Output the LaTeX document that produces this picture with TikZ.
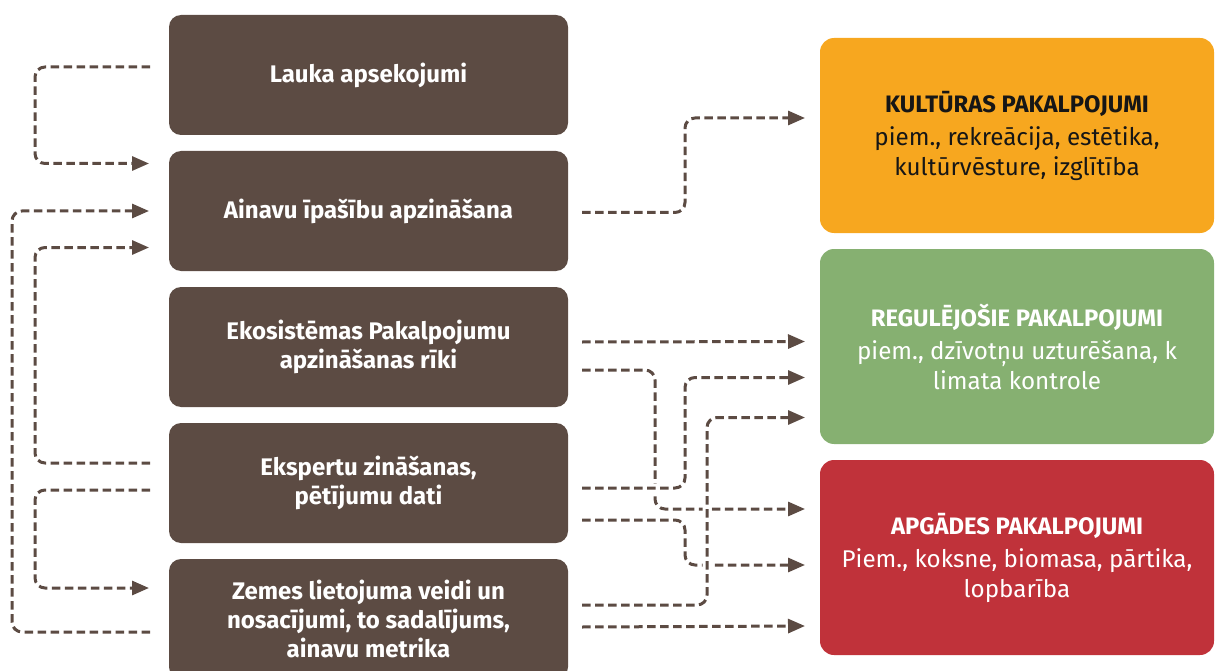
\documentclass[tikz,border=0pt]{standalone}
\usepackage{fontspec}
\setmainfont{Fira Sans}
\usepackage{xcolor}
\usepackage{tikz}
\usetikzlibrary{positioning,arrows.meta}
\definecolor{esBrown}{HTML}{5C4B43}
\definecolor{esOrange}{HTML}{F7A71F}
\definecolor{esGreen}{HTML}{86B071}
\definecolor{esRed}{HTML}{C0323A}
\definecolor{esInk}{HTML}{161616}
\newcommand{\svctitle}[1]{\textbf{\fontsize{23.8}{30}\selectfont #1}}
\tikzset{
  srcbox/.style={
    fill=esBrown, draw=none, rounded corners=12pt,
    minimum width=399pt, minimum height=120pt,
    inner sep=0pt, outer sep=0pt, align=center, text=white,
    font=\bfseries\fontsize{24}{29}\selectfont
  },
  svcbox/.style={
    draw=none, rounded corners=14pt,
    minimum width=394pt, minimum height=195pt,
    inner sep=0pt, outer sep=0pt, align=center,
    font=\fontsize{24.2}{30}\selectfont
  },
  flow/.style={
    draw=esBrown, line width=3pt, dash pattern=on 8.5pt off 4.5pt,
    rounded corners=10pt, -{Triangle[length=17pt,width=14pt]}
  },
  bridge/.style={preaction={draw=white, solid, line width=9pt, -}},
}

\begin{document}
\begin{tikzpicture}[x=1pt,y=1pt]

% --- canvas -----------------------------------------------------------------
\clip (0,0) rectangle (1215,-671);

% --- sources (left column) --------------------------------------------------
\node[srcbox] (lauka) at (368.5,-75) {Lauka apsekojumi};
\node[srcbox, below=16pt of lauka] (ainavu) {Ainavu īpašību apzināšana};
\node[srcbox, below=16pt of ainavu] (eko) {Ekosistēmas Pakalpojumu\\apzināšanas rīki};
\node[srcbox, below=16pt of eko] (eksp) {Ekspertu zināšanas,\\pētījumu dati};
\node[srcbox, below=16pt of eksp] (zemes) {Zemes lietojuma veidi un\\nosacījumi, to sadalījums,\\ainavu metrika};

% --- services (right column) ------------------------------------------------
\node[svcbox, fill=esOrange, text=esInk] (kult) at (1017,-135.5)
  {\svctitle{KULTŪRAS PAKALPOJUMI}\\[3pt]
   piem., rekreācija, estētika,\\kultūrvēsture, izglītība};
\node[svcbox, fill=esGreen, text=white, below=16pt of kult] (reg)
  {\svctitle{REGULĒJOŠIE PAKALPOJUMI}\\[3pt]
   piem., dzīvotņu uzturēšana, k\\limata kontrole};
\node[svcbox, fill=esRed, text=white, below=16pt of reg] (apg)
  {\svctitle{APGĀDES PAKALPOJUMI}\\[3pt]
   Piem., koksne, biomasa, pārtika,\\lopbarība};

% --- feedback loops on the left ---------------------------------------------
\draw[flow] ([xshift=-19pt,yshift=8pt]lauka.west) -- ++(-115,0)
  |- ([xshift=-20pt,yshift=47.5pt]ainavu.west);
\draw[flow] ([xshift=-19pt,yshift=-13pt]zemes.west) -- ++(-138,0)
  |- ([xshift=-20pt]ainavu.west);
\draw[flow] ([xshift=-19pt,yshift=20pt]eksp.west) -- ++(-115,0)
  |- ([xshift=-20pt,yshift=-36.5pt]ainavu.west);
\draw[flow] ([xshift=-19pt,yshift=-7pt]eksp.west) -- ++(-115,0)
  |- ([xshift=-20pt,yshift=31pt]zemes.west);

% --- links to the services --------------------------------------------------
\draw[flow] ([xshift=14pt,yshift=-1.5pt]ainavu.east) -- ++(103,0)
  |- ([xshift=-15pt,yshift=17.5pt]kult.west);
\draw[flow] ([xshift=14pt,yshift=5pt]eko.east)
  -- ([xshift=-15pt,yshift=5pt]reg.west);
\draw[flow] ([xshift=14pt,yshift=-23pt]eko.east) -- ++(73,0)
  |- ([xshift=-15pt,yshift=48.5pt]apg.west);
\draw[flow] ([xshift=14pt,yshift=-37pt]eksp.east) -- ++(103,0)
  |- ([xshift=-15pt,yshift=-7.5pt]apg.west);
\draw[flow,bridge] ([xshift=14pt,yshift=-5pt]eksp.east) -- ++(103,0)
  |- ([xshift=-15pt,yshift=-31pt]reg.west);
\draw[flow,bridge] ([xshift=14pt,yshift=14pt]zemes.east) -- ++(125,0)
  |- ([xshift=-15pt,yshift=-71pt]reg.west);
\draw[flow] ([xshift=14pt,yshift=-8pt]zemes.east)
  -- ([xshift=-15pt,yshift=-68.5pt]apg.west);

\end{tikzpicture}
\end{document}
